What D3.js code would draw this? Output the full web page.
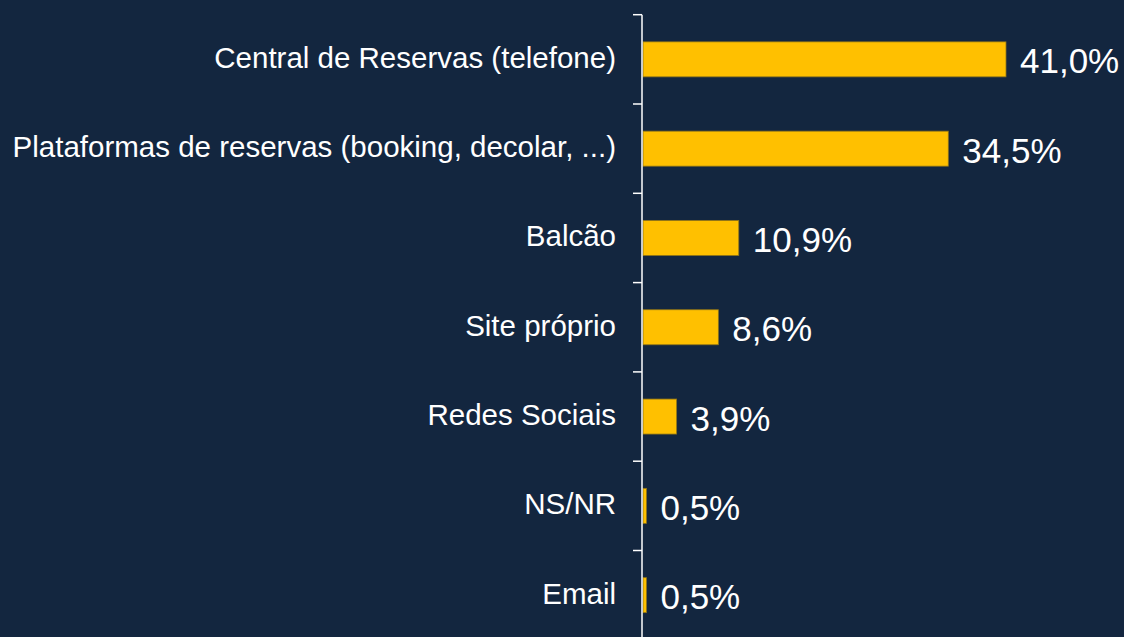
<!DOCTYPE html>
<html>
<head>
<meta charset="utf-8">
<script src="https://cdn.jsdelivr.net/npm/d3@7"></script>
<style>
  html, body { margin: 0; padding: 0; background: #13263f; }
  svg { display: block; }
  text { font-family: "Liberation Sans", Arial, sans-serif; fill: #ffffff; }
</style>
</head>
<body>
<div id="chart"></div>
<script>
var categories = [
    "Central de Reservas (telefone)",
    "Plataformas de reservas (booking, decolar, ...)",
    "Balcão",
    "Site próprio",
    "Redes Sociais",
    "NS/NR",
    "Email"
];
var values = [41.0, 34.5, 10.9, 8.6, 3.9, 0.5, 0.5];
var valueLabels = ["41,0%", "34,5%", "10,9%", "8,6%", "3,9%", "0,5%", "0,5%"];

var margin = { top: 14.7, right: 0, bottom: 0, left: 642 },
    width = 1124,
    height = 637;

var svg = d3
    .select("#chart")
    .append("svg")
    .attr("width", width)
    .attr("height", height);

var data = categories.map(function (c, i) {
    return { name: c, value: values[i], label: valueLabels[i] };
});

var x = d3.scaleLinear().domain([0, 41.0]).range([margin.left, margin.left + 364]);

var y = d3
    .scaleBand()
    .domain(categories)
    .range([margin.top, margin.top + 89.3 * 7])
    .paddingInner(0.608)
    .paddingOuter(0.304);

// bars
svg.append("g")
    .selectAll("rect")
    .data(data)
    .enter()
    .append("rect")
    .attr("x", x(0) + 1)
    .attr("y", function (d) { return y(d.name); })
    .attr("width", function (d) { return x(d.value) - x(0) - 1; })
    .attr("height", y.bandwidth())
    .style("fill", "#ffc000")
    .style("stroke", "#8f7418")
    .style("stroke-width", 0.8);

// axis line + boundary ticks
var axis = svg.append("g").attr("class", "axis");
axis.append("line")
    .attr("x1", x(0)).attr("x2", x(0))
    .attr("y1", margin.top).attr("y2", height + 5)
    .style("stroke", "#ffffff")
    .style("stroke-width", 1.5);

var boundaries = d3.range(categories.length + 1).map(function (i) {
    return margin.top + i * y.step();
});
axis.selectAll(".tick")
    .data(boundaries)
    .enter()
    .append("line")
    .attr("class", "tick")
    .attr("x1", x(0) - 9).attr("x2", x(0))
    .attr("y1", function (d) { return d; })
    .attr("y2", function (d) { return d; })
    .style("stroke", "#ffffff")
    .style("stroke-width", 1.5);

// category labels
svg.append("g")
    .selectAll("text")
    .data(data)
    .enter()
    .append("text")
    .attr("x", x(0) - 26)
    .attr("y", function (d) { return y(d.name) + y.bandwidth() / 2 + 8.5; })
    .attr("text-anchor", "end")
    .style("font-size", "29.5px")
    .text(function (d) { return d.name; });

// value labels
svg.append("g")
    .selectAll("text")
    .data(data)
    .enter()
    .append("text")
    .attr("x", function (d) { return x(d.value) + 14; })
    .attr("y", function (d) { return y(d.name) + y.bandwidth() / 2 + 14; })
    .style("font-size", "35px")
    .text(function (d) { return d.label; });
</script>
</body>
</html>
